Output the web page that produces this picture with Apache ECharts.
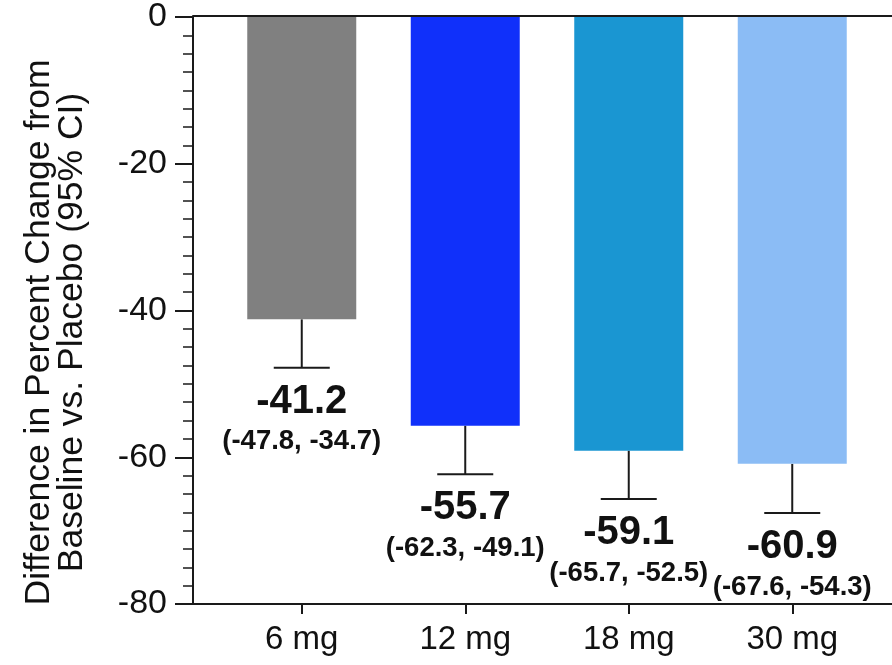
<!DOCTYPE html>
<html>
<head>
<meta charset="utf-8">
<script src="https://cdn.jsdelivr.net/npm/echarts@6/dist/echarts.min.js"></script>
<style>html,body{margin:0;padding:0;background:#fff;}#c{width:892px;height:665px;}</style>
</head>
<body>
<div id="c"></div>
<script>
var categories = ['6 mg', '12 mg', '18 mg', '30 mg'];
var diffValues = [-41.2, -55.7, -59.1, -60.9];
var ciLower = [-47.8, -62.3, -65.7, -67.6];
var ciUpper = [-34.7, -49.1, -52.5, -54.3];
var barColors = ['#808080', '#1030fa', '#1a96d2', '#8bbcf5'];
var yTicks = { min: -80, max: 0, interval: 20 };

var FONT = '"Liberation Sans", Arial, Helvetica, sans-serif';
var INK = '#1a1a1a';

var chart = echarts.init(document.getElementById('c'));
chart.setOption({
  animation: false,
  backgroundColor: '#ffffff',
  grid: [
    { left: 193, right: 0, top: 16, bottom: 61 },
    { left: 220, right: 18, top: 16, bottom: 61 }
  ],
  xAxis: [
    { gridIndex: 0, type: 'value', min: 0, max: 1, position: 'bottom',
      axisLine: { show: true, onZero: false, lineStyle: { color: INK, width: 2 } },
      axisTick: { show: false }, axisLabel: { show: false }, splitLine: { show: false } },
    { gridIndex: 0, type: 'value', min: 0, max: 1, position: 'top',
      axisLine: { show: true, onZero: false, lineStyle: { color: INK, width: 2 } },
      axisTick: { show: false }, axisLabel: { show: false }, splitLine: { show: false } },
    { gridIndex: 1, type: 'category', data: categories, position: 'bottom',
      axisLine: { show: false, onZero: false },
      axisTick: { show: true, alignWithLabel: true, length: 10, lineStyle: { color: INK, width: 2 } },
      axisLabel: { fontSize: 33, fontFamily: FONT, color: '#111', margin: 19 },
      splitLine: { show: false } }
  ],
  yAxis: [
    { gridIndex: 0, type: 'value', min: 0, max: 1, show: false },
    { gridIndex: 1, type: 'value', min: yTicks.min, max: yTicks.max, interval: yTicks.interval,
      offset: 27,
      name: 'Difference in Percent Change from\nBaseline vs. Placebo (95% CI)',
      nameLocation: 'middle', nameRotate: 90, nameGap: 104,
      nameTextStyle: { fontSize: 35.5, fontFamily: FONT, color: '#111', lineHeight: 33, padding: [0, 44, 0, 0] },
      axisLine: { show: true, lineStyle: { color: INK, width: 2 } },
      axisTick: { show: true, length: 18, lineStyle: { color: INK, width: 2 } },
      minorTick: { show: true, splitNumber: 8, length: 10, lineStyle: { color: INK, width: 1.5 } },
      axisLabel: { fontSize: 34, fontFamily: FONT, color: '#111', margin: 26 },
      splitLine: { show: false } }
  ],
  series: [
    { type: 'bar', xAxisIndex: 2, yAxisIndex: 1, barWidth: 109,
      data: diffValues.map(function (v, i) { return { value: v, itemStyle: { color: barColors[i] } }; }) },
    { type: 'custom', xAxisIndex: 2, yAxisIndex: 1, clip: false,
      data: diffValues.map(function (v, i) { return [i, v, ciLower[i], ciUpper[i]]; }),
      renderItem: function (params, api) {
        var idx = api.value(0), v = api.value(1), lo = api.value(2), hi = api.value(3);
        var pTop = api.coord([idx, v]);
        var pLow = api.coord([idx, lo]);
        var half = 28;
        return { type: 'group', children: [
          { type: 'line', shape: { x1: pTop[0], y1: pTop[1], x2: pLow[0], y2: pLow[1] },
            style: { stroke: INK, lineWidth: 2 } },
          { type: 'line', shape: { x1: pLow[0] - half, y1: pLow[1], x2: pLow[0] + half, y2: pLow[1] },
            style: { stroke: INK, lineWidth: 2 } },
          { type: 'text', x: pLow[0], y: pLow[1] + 34,
            style: { text: v.toFixed(1), fontSize: 40, fontWeight: 'bold', fontFamily: FONT,
                     fill: '#111', align: 'center', verticalAlign: 'middle' } },
          { type: 'text', x: pLow[0], y: pLow[1] + 74,
            style: { text: '(' + lo.toFixed(1) + ', ' + hi.toFixed(1) + ')', fontSize: 27.5, fontWeight: 'bold',
                     fontFamily: FONT, fill: '#111', align: 'center', verticalAlign: 'middle' } }
        ] };
      } }
  ]
});
</script>
</body>
</html>
